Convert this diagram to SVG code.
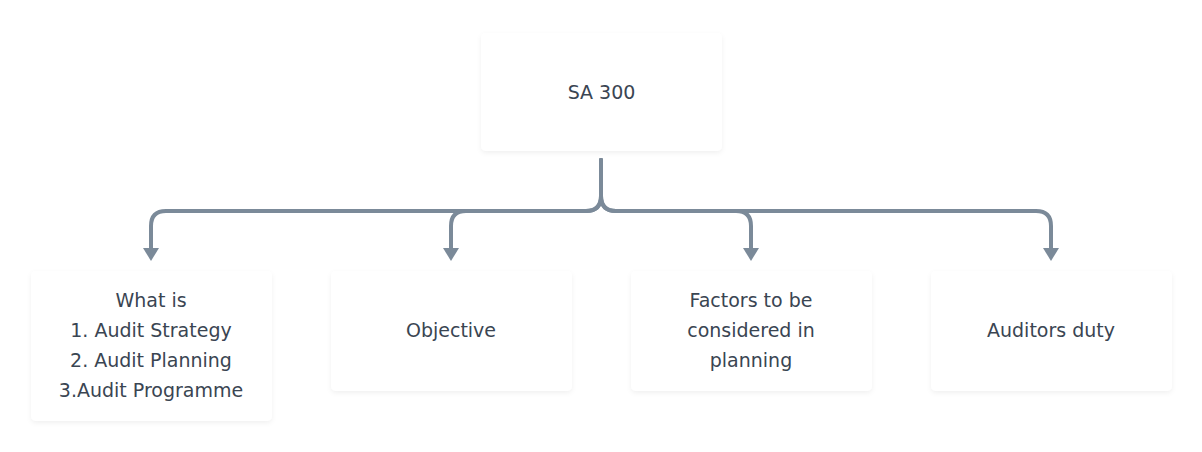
<svg xmlns="http://www.w3.org/2000/svg" width="1202" height="452" viewBox="0 0 1202 452">
<style>
.box{fill:#ffffff;filter:url(#sh);}
.t{font-family:"DejaVu Sans",sans-serif;font-size:19px;fill:#3a4552;text-anchor:middle;}
.c{fill:none;stroke:#7b8a99;stroke-width:4;stroke-linecap:round;}
</style>
<defs>
<filter id="sh" x="-10%" y="-10%" width="120%" height="130%">
<feDropShadow dx="0" dy="2" stdDeviation="2.5" flood-color="#000" flood-opacity="0.06"/>
</filter>
<marker id="ah" markerUnits="userSpaceOnUse" markerWidth="14" markerHeight="16" refX="1" refY="8" orient="auto">
<path d="M0,0 L13,8 L0,16 z" fill="#7b8a99"/>
</marker>
</defs>
<rect width="1202" height="452" fill="#ffffff"/>
<g id="connectors">
<path class="c" d="M601,160 V196 Q601,211 586,211 H166 Q151,211 151,226 V249" marker-end="url(#ah)"/>
<path class="c" d="M601,160 V196 Q601,211 586,211 H466 Q451,211 451,226 V249" marker-end="url(#ah)"/>
<path class="c" d="M601,160 V196 Q601,211 616,211 H736 Q751,211 751,226 V249" marker-end="url(#ah)"/>
<path class="c" d="M601,160 V196 Q601,211 616,211 H1036 Q1051,211 1051,226 V249" marker-end="url(#ah)"/>
</g>
<g id="sa300">
<rect class="box" x="481" y="33" width="241" height="118" rx="5"/>
<text class="t" x="601.5" y="99">SA 300</text>
</g>
<g id="what-is">
<rect class="box" x="31" y="271" width="241" height="150" rx="5"/>
<text class="t" x="151" y="307">What is</text>
<text class="t" x="151" y="337">1. Audit Strategy</text>
<text class="t" x="151" y="367">2. Audit Planning</text>
<text class="t" x="151" y="397">3.Audit Programme</text>
</g>
<g id="objective">
<rect class="box" x="331" y="271" width="241" height="120" rx="5"/>
<text class="t" x="451" y="337">Objective</text>
</g>
<g id="factors">
<rect class="box" x="631" y="271" width="241" height="120" rx="5"/>
<text class="t" x="751" y="307">Factors to be</text>
<text class="t" x="751" y="337">considered in</text>
<text class="t" x="751" y="367">planning</text>
</g>
<g id="auditors-duty">
<rect class="box" x="931" y="271" width="241" height="120" rx="5"/>
<text class="t" x="1051" y="337">Auditors duty</text>
</g>
</svg>
